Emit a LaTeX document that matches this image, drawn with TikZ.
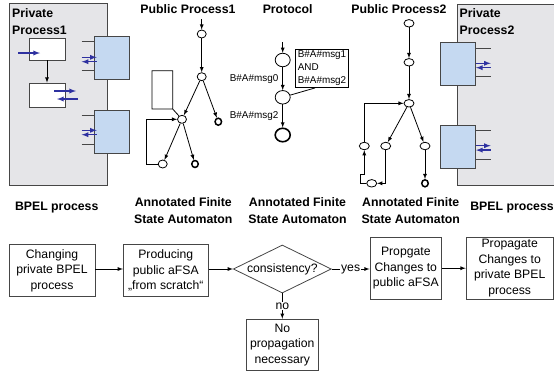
\documentclass[tikz,border=0pt]{standalone}
\usepackage{fontspec}
\setmainfont{Liberation Sans}
\usetikzlibrary{arrows,shapes.geometric}
\newcommand{\hdfont}{\fontsize{12.3pt}{16.4pt}\selectfont\bfseries}
\newcommand{\boxfont}{\fontsize{12.2pt}{15.6pt}\selectfont}
\newcommand{\msgfont}{\fontsize{9.9pt}{13.3pt}\selectfont}
\definecolor{procgray}{RGB}{229,229,232}
\definecolor{edgegray}{RGB}{70,70,70}
\definecolor{portblue}{RGB}{197,217,241}
\definecolor{msgblue}{RGB}{46,49,160}

\begin{document}
\begin{tikzpicture}[x=1pt,y=-1pt,line width=0.8pt,
  st/.style={draw,ellipse,inner sep=0pt,minimum width=9pt,minimum height=8pt},
  st2/.style={st,minimum width=10pt,minimum height=7.5pt},
  fin/.style={st,line width=1.5pt,minimum width=6.5pt,minimum height=7pt},
  bigst/.style={draw,ellipse,inner sep=0pt,minimum width=15pt,minimum height=13.5pt},
  actbox/.style={draw=edgegray,fill=white,inner sep=0pt,minimum width=36pt},
  portbox/.style={draw=edgegray,fill=portblue,inner sep=0pt,minimum width=35pt,minimum height=43pt},
  flowbox/.style={draw=edgegray,align=center,inner sep=0pt,font=\boxfont},
  msgarr/.style={draw=msgblue,line width=1.3pt,-latex},
  hd/.style={font=\hdfont,align=center,inner sep=0pt}]
\useasboundingbox (0,0) rectangle (554,376);

%private process 1
\draw[edgegray,fill=procgray] (9,3) rectangle (107,185);
\node[hd,align=left,anchor=north west] (pp1) at (11.7,8.3) {Private\\Process1};
\foreach \y in {41.7,70,115.7,144.3}
\draw[edgegray] (81.7,\y) -- (94.3,\y);
\node (p1a) at (112.2,58) [portbox] {};
\node (p1b) at (112.2,131.5) [portbox] {};
\node (act1) at (47,49) [actbox,minimum height=22pt] {};
\node (act2) at (47,95) [actbox,minimum height=24pt] {};
\draw[-latex] (act1) -- (act2);
\draw[msgarr] (18,53) -- (40,53);
\draw[msgarr] (54,91) -- (76,91);
\draw[msgarr] (78,99) -- (57,99);
\foreach \y in {57.3,130.3}
{\draw[msgarr] (81.7,\y) -- (96.7,\y);
 \draw[msgarr] (96.7,\y+4.4) -- (81.7,\y+4.4);}

%private process 2
\fill[procgray] (457.3,4) rectangle (554,185);
\draw[edgegray] (554,4) -- (457.3,4) -- (457.3,185) -- (554,185);
\node[hd,align=left,anchor=north west] (pp2) at (459.3,8.3) {Private\\Process2};
\foreach \y in {48.3,76.7,130,159}
\draw[edgegray] (475,\y) -- (490.7,\y);
\node (q1) at (457.8,64.3) [portbox,minimum width=34.3pt] {};
\node (q2) at (457.8,146.7) [portbox,minimum width=34.3pt] {};
\foreach \y in {63.3,145.7}
{\draw[msgarr] (476,\y) -- (490.7,\y);
 \draw[msgarr] (490.7,\y+4.4) -- (476,\y+4.4);}

%public process 1
\node[hd,anchor=base] (h1) at (188,13.5) {Public Process1};
\coordinate (a0) at (201.7,19);
\node (a1) at (201.7,34) [st] {};
\node (a2) at (201.7,76.7) [st] {};
\node (a3) at (182,119.3) [st] {};
\node (a4) at (218.3,121.7) [fin] {};
\node (a5) at (162.7,164) [st] {};
\node (a6) at (195,164) [fin] {};
\draw[-latex] (a0) -- (a1);
\foreach \s/\t in {a1/a2,a2/a3,a2/a4,a3/a5,a3/a6}
\draw[-latex] (\s) -- (\t);
\draw (a3) -- (172.7,109) -- (172.7,70.7) -| (152,109) -- (172.7,109);
\draw[-latex] (a5.west) -- (146.7,164) |- (a3.west);

%protocol
\node[hd,anchor=base] (h2) at (287.7,13.5) {Protocol};
\coordinate (b0) at (282.7,42);
\node (b1) at (282.7,60) [bigst] {};
\node (b2) at (282.7,97.3) [bigst] {};
\node (b3) at (282.7,135) [bigst,line width=1.6pt] {};
\draw[-latex] (b0) -- (b1);
\draw[-latex] (b1) -- node[left=3pt,inner sep=1pt,font=\msgfont] (m0) {B\#A\#msg0} (b2);
\draw[-latex] (b2) -- node[left=3pt,inner sep=1pt,font=\msgfont] (m2) {B\#A\#msg2} (b3);
\node (ann) at (322,68.3) [draw,align=left,font=\msgfont,inner xsep=2pt,inner ysep=1.5pt] {B\#A\#msg1\\AND\\B\#A\#msg2};
\draw (b2) -- ([xshift=-7pt]ann.south);

%public process 2
\node[hd,anchor=base] (h3) at (399,13.5) {Public Process2};
\node (c0) at (409,23.3) [st2] {};
\node (c1) at (409,62.3) [st2] {};
\node (c2) at (409,103.3) [st2] {};
\node (c3) at (364.3,146) [st2] {};
\node (c4) at (385.7,146) [st2] {};
\node (c5) at (425,146) [st2] {};
\node (c6) at (425,183.3) [fin] {};
\node (c7) at (371.7,183.3) [st2] {};
\foreach \s/\t in {c0/c1,c1/c2,c2/c4,c2/c5,c5/c6}
\draw[-latex] (\s) -- (\t);
\draw[-latex] (c4.south) |- (c7.east);
\draw[-latex] (c7.west) -- (360,183.3) -- (360,174) -| (c3.south);
\draw[-latex] (c3.north) |- (c2.west);

%captions
\node[hd,anchor=base] (t1) at (56.7,210.7) {BPEL process};
\node[hd,anchor=north] (t2) at (183.3,197.3) {Annotated Finite\\State Automaton};
\node[hd,anchor=north] (t3) at (297.5,197.3) {Annotated Finite\\State Automaton};
\node[hd,anchor=north] (t4) at (410.7,197.3) {Annotated Finite\\State Automaton};
\node[hd,anchor=base] (t5) at (512,210.7) {BPEL process};

%flow chart
\node (f1) at (52,270.5) [flowbox,minimum width=86pt,minimum height=52.3pt] {Changing\\private BPEL\\process};
\node (f2) at (165.8,270.5) [flowbox,minimum width=85pt,minimum height=52.3pt] {Producing\\public aFSA\\„from scratch“};
\node (dia) at (282.3,269) [draw=edgegray,diamond,aspect=2,inner sep=0pt,minimum width=98pt,minimum height=48pt,font=\boxfont] {consistency?};
\node (f3) at (405.8,268.2) [flowbox,minimum width=71.7pt,minimum height=61.7pt] {Propgate\\Changes to\\public aFSA};
\node (f4) at (509.7,268.2) [flowbox,minimum width=87.3pt,minimum height=61.7pt] {Propagate\\Changes to\\private BPEL\\process};
\node (f5) at (282.3,345) [flowbox,minimum width=71.6pt,minimum height=51.7pt] {No\\propagation\\necessary};
\draw[-latex] (f1.east |- dia) -- (f2.west |- dia);
\draw[-latex] (f2.east |- dia) -- (dia.west);
\draw[-latex] (dia.east) -- node[fill=white,font=\boxfont,inner sep=1pt] (yes) {yes} (f3.west |- dia);
\draw[-latex] (dia.south) -- node[fill=white,font=\boxfont,inner sep=1pt] (no) {no} (f5.north);
\draw[-latex] (f3) -- (f4);

\end{tikzpicture}
\end{document}
